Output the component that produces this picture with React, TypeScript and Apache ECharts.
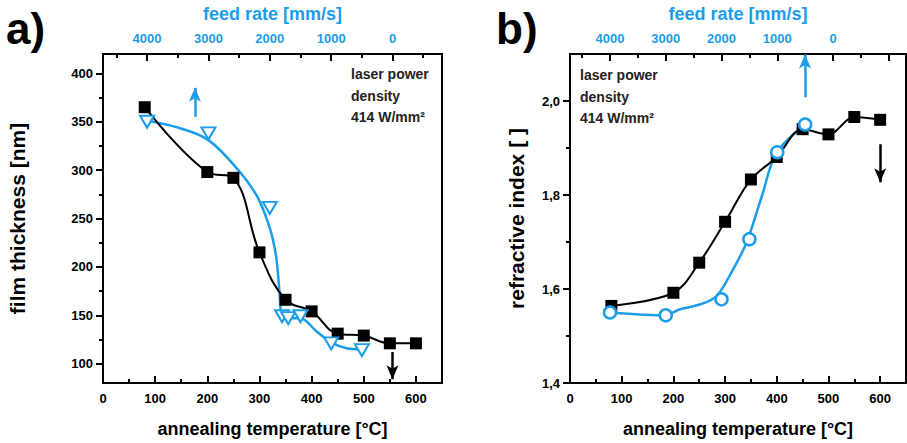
import React, { useEffect, useRef } from "react";
import * as echarts from "echarts";

// ---------- data ----------
const tempA = [80, 200, 250, 300, 350, 400, 450, 500, 550, 600];
const thicknessA = [365, 298, 292, 215, 166, 154, 131, 129, 121, 121];

const feedA = [4000, 3000, 2000, 1800, 1700, 1500, 1000, 500];
const thicknessFeedA = [350, 338, 261, 149, 147, 149, 121, 114];

const fitFeedA = [4000, 3500, 3000, 2500, 2200, 2000, 1900, 1850, 1820, 1800, 1700, 1500, 1250, 1000, 750, 500];
const fitThicknessA = [351, 344, 331, 299, 272, 240, 212, 180, 153, 149, 147, 147, 134, 122, 116, 115];

const tempB = [80, 200, 250, 300, 350, 400, 450, 500, 550, 600];
const indexB = [1.564, 1.592, 1.656, 1.743, 1.833, 1.881, 1.94, 1.929, 1.966, 1.96];

const feedB = [4000, 3000, 2000, 1500, 1000, 500];
const indexFeedB = [1.55, 1.544, 1.578, 1.706, 1.891, 1.95];

const fitFeedB = [4030, 3460, 3030, 2740, 2390, 2090, 1810, 1550, 1270, 1010, 500];
const fitIndexB = [1.55, 1.546, 1.544, 1.557, 1.567, 1.585, 1.638, 1.699, 1.8, 1.89, 1.95];

const tempMajorTicks = [0, 100, 200, 300, 400, 500, 600];
const tempMinorTicks = [50, 150, 250, 350, 450, 550, 650];
const feedLabels = [0, 1000, 2000, 3000, 4000];
const feedMajorTicksA = [0, 1000, 2000, 3000, 4000];
const feedMinorTicksA = [-500, 500, 1500, 2500, 3500, 4500];
const feedMajorTicksB = [-1000, 0, 1000, 2000, 3000, 4000];
const feedMinorTicksB = [-500, 500, 1500, 2500, 3500, 4500];
const thickMajorTicks = [100, 150, 200, 250, 300, 350, 400];
const thickMinorTicks = [125, 175, 225, 275, 325, 375];
const indexMajorTicks = [1.4, 1.6, 1.8, 2.0];
const indexMinorTicks = [1.5, 1.7, 1.9];

const annotationLines = ["laser power", "density", "414 W/mm²"];

// ---------- style ----------
const FONT = '"Liberation Sans", Arial, Helvetica, sans-serif';
const BLUE = "#1B9DEA";
const BLACK = "#000000";

const zip = (a: number[], b: number[]) => a.map((v, i) => [v, b[i]]);

function axisBase(color: string) {
  return {
    type: "value" as const,
    splitLine: { show: false },
    axisLine: { show: true, onZero: false, lineStyle: { color: BLACK, width: 2 } },
    axisLabel: {
      show: true,
      fontSize: 13,
      fontWeight: "bold",
      color,
      fontFamily: FONT,
    },
  };
}

function majorAxis(opts: any) {
  const base = axisBase(opts.labelColor || BLACK);
  return {
    ...base,
    gridIndex: opts.grid,
    position: opts.position,
    min: opts.min,
    max: opts.max,
    inverse: !!opts.inverse,
    name: opts.name,
    nameLocation: "middle",
    nameGap: opts.nameGap,
    nameTextStyle: {
      fontSize: opts.nameSize || 18,
      fontWeight: "bold",
      color: opts.labelColor || BLACK,
      fontFamily: FONT,
    },
    axisTick: {
      show: true,
      inside: !!opts.inside,
      length: 7,
      lineStyle: { color: BLACK, width: 2 },
      customValues: opts.ticks,
    },
    axisLabel: {
      ...base.axisLabel,
      margin: opts.margin,
      customValues: opts.labels,
      formatter: opts.formatter || ((v: number) => String(v)),
    },
  };
}

function minorAxis(opts: any) {
  return {
    type: "value",
    gridIndex: opts.grid,
    position: opts.position,
    min: opts.min,
    max: opts.max,
    inverse: !!opts.inverse,
    splitLine: { show: false },
    axisLine: { show: false, onZero: false },
    axisLabel: { show: false },
    axisTick: {
      show: true,
      inside: !!opts.inside,
      length: 4,
      lineStyle: { color: BLACK, width: 2 },
      customValues: opts.ticks,
    },
  };
}

const arrowLine = (color: string, from: number[], to: number[]) => ({
  silent: true,
  symbol: ["none", "arrow"],
  symbolSize: [9, 14],
  label: { show: false },
  emphasis: { disabled: true },
  lineStyle: { color, width: 2.5, type: "solid" },
  data: [[{ coord: from }, { coord: to }]],
});

export default function App() {
  const ref = useRef<HTMLDivElement>(null);

  useEffect(() => {
    document.body.style.margin = "0";
    if (!ref.current) return;
    const chart = echarts.init(ref.current, undefined, { renderer: "svg" });

    const commaFmt = (v: number) => v.toFixed(1).replace(".", ",");

    const option: any = {
      animation: false,
      backgroundColor: "#ffffff",
      grid: [
        { left: 103, top: 53, width: 339, height: 330, show: true, borderColor: BLACK, borderWidth: 2, containLabel: false },
        { left: 570, top: 53, width: 336, height: 330, show: true, borderColor: BLACK, borderWidth: 2, containLabel: false },
      ],
      xAxis: [
        majorAxis({ grid: 0, position: "bottom", min: 0, max: 650, name: "annealing temperature [°C]", nameGap: 37, inside: true, ticks: tempMajorTicks, labels: tempMajorTicks, margin: 9 }),
        minorAxis({ grid: 0, position: "bottom", min: 0, max: 650, inside: true, ticks: tempMinorTicks }),
        majorAxis({ grid: 0, position: "top", min: -806, max: 4718, inverse: true, name: "feed rate [mm/s]", nameGap: 31, inside: true, ticks: feedMajorTicksA, labels: feedLabels, margin: 9, labelColor: BLUE }),
        minorAxis({ grid: 0, position: "top", min: -806, max: 4718, inverse: true, inside: true, ticks: feedMinorTicksA }),
        majorAxis({ grid: 1, position: "bottom", min: 0, max: 650, name: "annealing temperature [°C]", nameGap: 37, inside: true, ticks: tempMajorTicks, labels: tempMajorTicks, margin: 9 }),
        minorAxis({ grid: 1, position: "bottom", min: 0, max: 650, inside: true, ticks: tempMinorTicks }),
        majorAxis({ grid: 1, position: "top", min: -1309, max: 4717, inverse: true, name: "feed rate [mm/s]", nameGap: 31, inside: true, ticks: feedMajorTicksB, labels: feedLabels, margin: 9, labelColor: BLUE }),
        minorAxis({ grid: 1, position: "top", min: -1309, max: 4717, inverse: true, inside: true, ticks: feedMinorTicksB }),
      ],
      yAxis: [
        majorAxis({ grid: 0, position: "left", min: 80, max: 420, name: "film thickness [nm]", nameGap: 75, nameSize: 21, inside: false, ticks: thickMajorTicks, labels: thickMajorTicks, margin: 10 }),
        minorAxis({ grid: 0, position: "left", min: 80, max: 420, inside: false, ticks: thickMinorTicks }),
        majorAxis({ grid: 1, position: "left", min: 1.4, max: 2.1, name: "refractive index [ ]", nameGap: 43, nameSize: 21, inside: false, ticks: indexMajorTicks, labels: indexMajorTicks, margin: 10, formatter: commaFmt }),
        minorAxis({ grid: 1, position: "left", min: 1.4, max: 2.1, inside: false, ticks: indexMinorTicks }),
      ],
      series: [
        // ----- panel a -----
        {
          type: "line",
          xAxisIndex: 2,
          yAxisIndex: 0,
          data: zip(fitFeedA, fitThicknessA),
          smooth: 0.35,
          showSymbol: false,
          symbol: "none",
          lineStyle: { color: BLUE, width: 2.5 },
          silent: true,
          z: 2,
          markLine: arrowLine(BLUE, [3220, 355], [3220, 385]),
        },
        {
          type: "line",
          xAxisIndex: 0,
          yAxisIndex: 0,
          data: zip(tempA, thicknessA),
          smooth: 0.4,
          symbol: "rect",
          symbolSize: 12,
          itemStyle: { color: BLACK, opacity: 1 },
          lineStyle: { color: BLACK, width: 2 },
          silent: true,
          z: 3,
          markLine: arrowLine(BLACK, [555, 112], [555, 84]),
        },
        {
          type: "scatter",
          xAxisIndex: 2,
          yAxisIndex: 0,
          data: zip(feedA, thicknessFeedA),
          symbol: "triangle",
          symbolRotate: 180,
          symbolSize: [14, 12],
          itemStyle: { color: "#ffffff", borderColor: BLUE, borderWidth: 2, opacity: 1 },
          silent: true,
          z: 4,
        },
        // ----- panel b -----
        {
          type: "line",
          xAxisIndex: 6,
          yAxisIndex: 2,
          data: zip(fitFeedB, fitIndexB),
          smooth: 0.35,
          showSymbol: false,
          symbol: "none",
          lineStyle: { color: BLUE, width: 2.5 },
          silent: true,
          z: 2,
          markLine: arrowLine(BLUE, [502, 2.008], [502, 2.099]),
        },
        {
          type: "line",
          xAxisIndex: 4,
          yAxisIndex: 2,
          data: zip(tempB, indexB),
          smooth: 0.35,
          symbol: "rect",
          symbolSize: 12,
          itemStyle: { color: BLACK, opacity: 1 },
          lineStyle: { color: BLACK, width: 2 },
          silent: true,
          z: 3,
          markLine: arrowLine(BLACK, [600, 1.908], [600, 1.827]),
        },
        {
          type: "scatter",
          xAxisIndex: 6,
          yAxisIndex: 2,
          data: zip(feedB, indexFeedB),
          symbol: "circle",
          symbolSize: 12,
          itemStyle: { color: "#ffffff", borderColor: BLUE, borderWidth: 2.5, opacity: 1 },
          silent: true,
          z: 4,
        },
      ],
      graphic: [
        { type: "text", left: 6, top: 6, style: { text: "a)", fontSize: 44, fontWeight: "bold", fill: BLACK, fontFamily: FONT } },
        { type: "text", left: 496, top: 6, style: { text: "b)", fontSize: 44, fontWeight: "bold", fill: BLACK, fontFamily: FONT } },
        ...annotationLines.map((t, i) => ({
          type: "text",
          left: 351,
          top: 67 + i * 21.5,
          style: { text: t, fontSize: 14, fontWeight: "bold", fill: "#222", fontFamily: FONT },
        })),
        ...annotationLines.map((t, i) => ({
          type: "text",
          left: 580,
          top: 68 + i * 21.5,
          style: { text: t, fontSize: 14, fontWeight: "bold", fill: "#222", fontFamily: FONT },
        })),
      ],
    };

    chart.setOption(option);
    return () => chart.dispose();
  }, []);

  return <div ref={ref} style={{ width: 907, height: 443 }} />;
}
